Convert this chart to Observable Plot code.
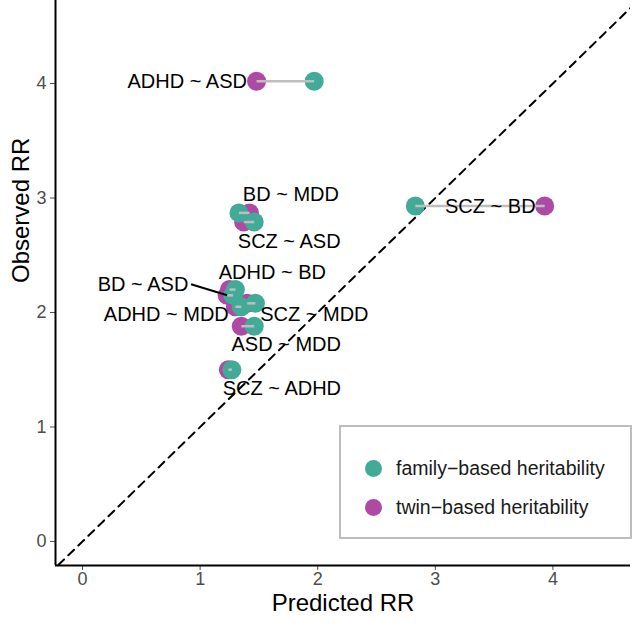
<!DOCTYPE html>
<html>
<head>
<meta charset="utf-8">
<script src="https://cdn.jsdelivr.net/npm/d3@7"></script>
<script src="https://cdn.jsdelivr.net/npm/@observablehq/plot@0.6"></script>
<style>
  html, body { margin: 0; padding: 0; background: #fff; }
  #wrap { position: relative; width: 634px; height: 629px; font-family: "Liberation Sans", Arial, sans-serif; }
  #legend { position: absolute; left: 339px; top: 425px; width: 289px; height: 110px;
            border: 2px solid #bdbdbd; background: #fff; box-sizing: content-box; }
  .item { position: absolute; left: 24px; display: flex; align-items: center; font-size: 19.5px; color: #1a1a1a; }
  .sw { width: 17px; height: 17px; border-radius: 50%; margin-right: 14px; }
</style>
</head>
<body>
<div id="wrap"></div>
<script>
// ---- data ----
const pairs = ["ADHD ~ ASD", "SCZ ~ BD", "BD ~ MDD", "SCZ ~ ASD", "ADHD ~ BD", "BD ~ ASD", "ADHD ~ MDD", "SCZ ~ MDD", "ASD ~ MDD", "SCZ ~ ADHD"];
const predictedFamily = [1.97, 2.83, 1.33, 1.46, 1.30, 1.28, 1.35, 1.47, 1.46, 1.27];
const predictedTwin   = [1.48, 3.93, 1.42, 1.37, 1.25, 1.23, 1.30, 1.40, 1.35, 1.24];
const observed        = [4.02, 2.93, 2.87, 2.79, 2.20, 2.15, 2.05, 2.08, 1.88, 1.50];
const seriesLabels = ["family\u2212based heritability", "twin\u2212based heritability"];
const xTicks = [0, 1, 2, 3, 4];
const yTicks = [0, 1, 2, 3, 4];
const xTitle = "Predicted RR";
const yTitle = "Observed RR";

// ---- layout (pixel offsets of labels from family point) ----
const labelOffsets = {
  "ADHD ~ ASD": [-127, 0], "SCZ ~ BD": [75, 1], "BD ~ MDD": [52, -18], "SCZ ~ ASD": [35, 20],
  "ADHD ~ BD": [37, -17], "BD ~ ASD": [-90, -11], "ADHD ~ MDD": [-75, 8], "SCZ ~ MDD": [59, 11],
  "ASD ~ MDD": [32, 18], "SCZ ~ ADHD": [50, 19]
};
const leaderPairs = ["BD ~ ASD"];

const W = 634, H = 629, mL = 55, mR = 4, mT = 0, mB = 64;
const xDomain = [-0.23, 4.66], yDomain = [-0.21, 4.725];
const kx = (W - mL - mR) / (xDomain[1] - xDomain[0]);
const ky = (H - mT - mB) / (yDomain[1] - yDomain[0]);

const colFamily = "#41ab97", colTwin = "#ad4aa3";

const rows = pairs.map((p, i) => ({
  pair: p, fam: predictedFamily[i], twin: predictedTwin[i], obs: observed[i],
  lx: predictedFamily[i] + labelOffsets[p][0] / kx,
  ly: observed[i] - labelOffsets[p][1] / ky
}));
const leaders = rows.filter(r => leaderPairs.includes(r.pair)).map(r => ({
  x1: r.twin, y1: r.obs, x2: r.lx + 48 / kx, y2: r.ly
}));

const chart = Plot.plot({
  width: W, height: H,
  marginLeft: mL, marginRight: mR, marginTop: mT, marginBottom: mB,
  x: { domain: xDomain },
  y: { domain: yDomain },
  style: { fontFamily: "Liberation Sans, Arial, sans-serif", background: "#fff" },
  marks: [
    Plot.line([[xDomain[0] - 1, xDomain[0] - 1], [xDomain[1] + 1, xDomain[1] + 1]],
      { stroke: "black", strokeWidth: 2, strokeDasharray: "8,6", clip: true }),
    Plot.dot(rows, { x: "twin", y: "obs", r: 9.5, fill: colTwin }),
    Plot.dot(rows, { x: "fam", y: "obs", r: 9.5, fill: colFamily }),
    Plot.link(rows, { x1: "twin", x2: "fam", y1: "obs", y2: "obs", stroke: "#bebebe", strokeWidth: 2.5 }),
    Plot.link(leaders, { x1: "x1", y1: "y1", x2: "x2", y2: "y2", stroke: "black", strokeWidth: 2 }),
    Plot.text(rows, { x: "lx", y: "ly", text: "pair", fontSize: 20, fill: "black" }),
    Plot.axisX({ ticks: xTicks, tickFormat: d => String(d), tickSize: 5, tickPadding: 2, fontSize: 18, color: "#4d4d4d", label: null }),
    Plot.axisY({ ticks: yTicks, tickFormat: d => String(d), tickSize: 5, tickPadding: 4, fontSize: 18, color: "#4d4d4d", label: null }),
    Plot.ruleX([xDomain[0]], { stroke: "black", strokeWidth: 2 }),
    Plot.ruleY([yDomain[0]], { stroke: "black", strokeWidth: 2 }),
    Plot.text([xTitle], { frameAnchor: "bottom", dy: 45, fontSize: 24, fill: "black" }),
    Plot.text([yTitle], { frameAnchor: "left", dx: -34, rotate: -90, fontSize: 24, fill: "black" })
  ]
});

const wrap = document.getElementById("wrap");
wrap.appendChild(chart);

const legend = document.createElement("div");
legend.id = "legend";
const colors = [colFamily, colTwin];
seriesLabels.forEach((lab, i) => {
  const it = document.createElement("div");
  it.className = "item";
  it.style.top = (i === 0 ? 30 : 69) + "px";
  const sw = document.createElement("span");
  sw.className = "sw";
  sw.style.background = colors[i];
  const tx = document.createElement("span");
  tx.textContent = lab;
  it.appendChild(sw); it.appendChild(tx);
  legend.appendChild(it);
});
wrap.appendChild(legend);
</script>
</body>
</html>
